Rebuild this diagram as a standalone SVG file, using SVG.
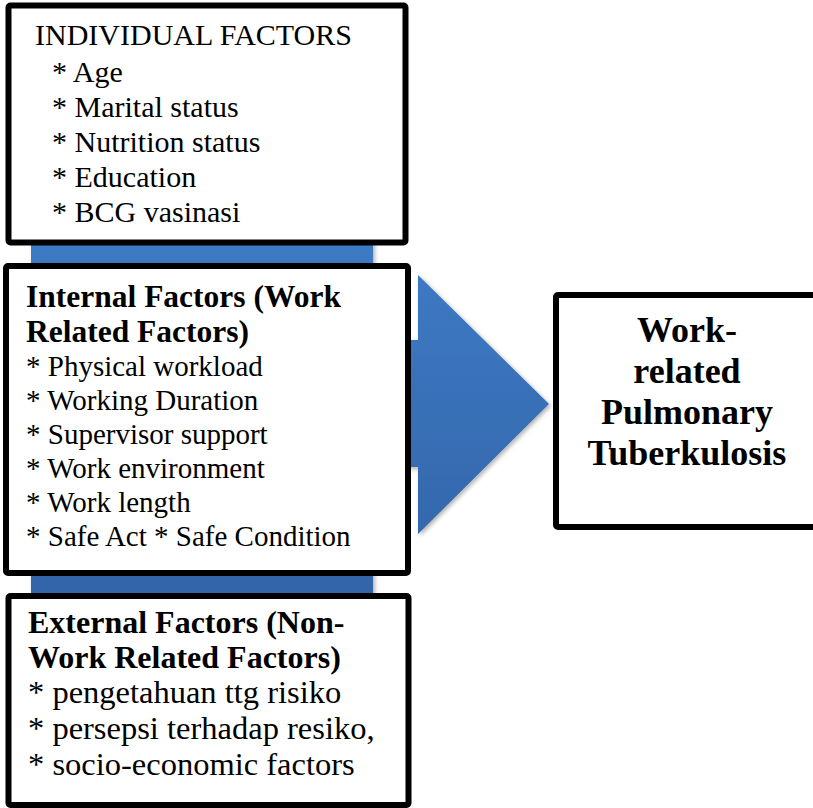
<svg xmlns="http://www.w3.org/2000/svg" width="813" height="808" viewBox="0 0 813 808">
  <defs>
    <linearGradient id="blueFill" gradientUnits="userSpaceOnUse" x1="0" y1="230" x2="0" y2="620">
      <stop offset="0" stop-color="#3e7bc6"/>
      <stop offset="1" stop-color="#3263a6"/>
    </linearGradient>
    <filter id="softShadow" x="-10%" y="-10%" width="130%" height="130%">
      <feDropShadow dx="2" dy="2" stdDeviation="2" flood-color="#000" flood-opacity="0.3"/>
    </filter>
  </defs>
  <style>
    .box { fill: #fff; stroke: #000; stroke-width: 6; stroke-linejoin: round; }
    .txt { font-family: "Liberation Serif", "Times New Roman", serif; fill: #000; }
    .b { font-weight: bold; }
  </style>

  <rect width="813" height="808" fill="#fff"/>

  <!-- big blue arrow running behind the factor boxes -->
  <g id="connectors">
    <path d="M31,200 H373 V340 H418 V275 L549,404 L418,534 V467 H373 V620 H31 Z"
          fill="url(#blueFill)" filter="url(#softShadow)"/>
  </g>

  <g id="individual-factors">
    <rect class="box" x="8.5" y="5.5" width="397" height="237" rx="2"/>
    <g class="txt" font-size="30">
      <text x="35" y="45">INDIVIDUAL FACTORS</text>
      <text x="52" y="82">* Age</text>
      <text x="52" y="117">* Marital status</text>
      <text x="52" y="152">* Nutrition status</text>
      <text x="52" y="187">* Education</text>
      <text x="52" y="222">* BCG vasinasi</text>
    </g>
  </g>

  <g id="internal-factors">
    <rect class="box" x="6" y="266" width="402" height="307" rx="2"/>
    <g class="txt" font-size="29">
      <text class="b" x="26" y="307" font-size="31.5">Internal Factors (Work</text>
      <text class="b" x="26" y="342" font-size="31.5">Related Factors)</text>
      <text x="26" y="376">* Physical workload</text>
      <text x="26" y="410">* Working Duration</text>
      <text x="26" y="444">* Supervisor support</text>
      <text x="26" y="478">* Work environment</text>
      <text x="26" y="512">* Work length</text>
      <text x="26" y="546">* Safe Act * Safe Condition</text>
    </g>
  </g>

  <g id="external-factors">
    <rect class="box" x="8.5" y="596" width="400" height="209" rx="2"/>
    <g class="txt" font-size="32.5">
      <text class="b" x="28" y="633" font-size="32">External Factors (Non-</text>
      <text class="b" x="28" y="668" font-size="32">Work Related Factors)</text>
      <text x="28" y="703">* pengetahuan ttg risiko</text>
      <text x="28" y="739">* persepsi terhadap resiko,</text>
      <text x="28" y="775">* socio-economic factors</text>
    </g>
  </g>

  <g id="outcome">
    <rect class="box" x="556" y="295" width="262" height="232" rx="2"/>
    <g class="txt b" font-size="36" text-anchor="middle">
      <text x="687" y="342">Work-</text>
      <text x="687" y="383">related</text>
      <text x="687" y="424">Pulmonary</text>
      <text x="687" y="465">Tuberkulosis</text>
    </g>
  </g>
</svg>
